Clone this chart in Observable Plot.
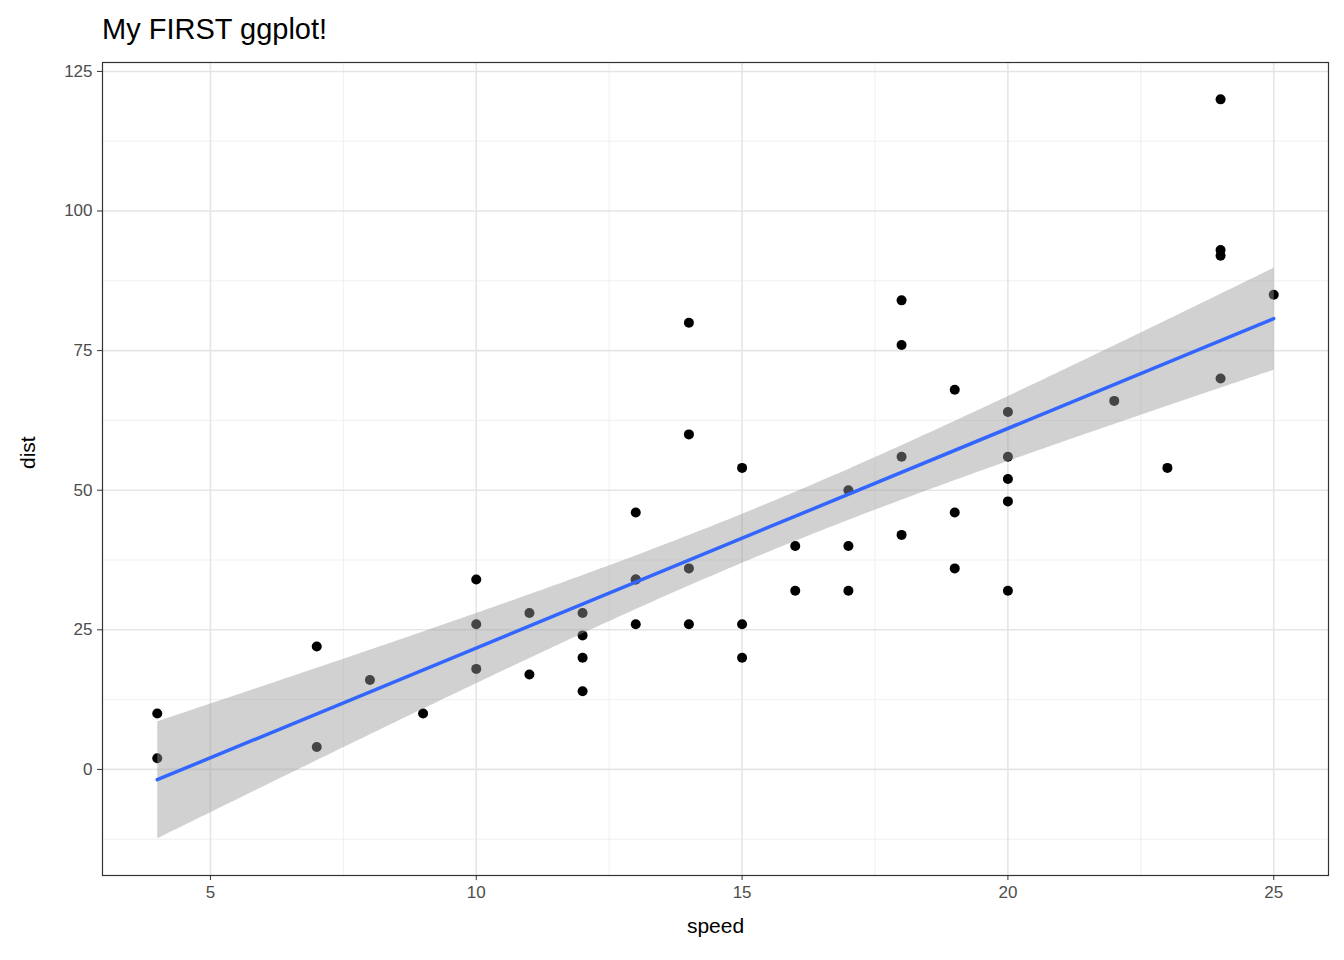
<!DOCTYPE html>
<html>
<head>
<meta charset="utf-8">
<script src="https://cdn.jsdelivr.net/npm/d3@7"></script>
<script src="https://cdn.jsdelivr.net/npm/@observablehq/plot@0.6"></script>
<style>
  body { margin: 0; background: #fff; font-family: "Liberation Sans", Arial, sans-serif; }
  #title { height: 50px; box-sizing: border-box; padding: 13px 0 0 102px; font-size: 29px; color: #000; }
  #chart svg g[aria-label="x-axis tick label"] text, #chart svg g[aria-label="y-axis tick label"] text { font-size: 17px; }
</style>
</head>
<body>
<div id="title">My FIRST ggplot!</div>
<div id="chart"></div>
<script>
const speed = [4,4,7,7,8,9,10,10,10,11,11,12,12,12,12,13,13,13,13,14,14,14,14,15,15,15,16,16,17,17,17,18,18,18,18,19,19,19,20,20,20,20,20,22,23,24,24,24,24,25];
const dist = [2,10,4,22,16,10,18,26,34,17,28,14,20,24,28,26,34,34,46,26,36,60,80,20,26,54,32,40,32,40,50,42,56,76,84,36,46,68,32,48,52,56,64,66,54,70,92,93,120,85];
const xTicks = [5, 10, 15, 20, 25];
const yTicks = [0, 25, 50, 75, 100, 125];
const xMinor = [7.5, 12.5, 17.5, 22.5];
const yMinor = [-12.5, 12.5, 37.5, 62.5, 87.5, 112.5];

const cars = speed.map((s, i) => ({speed: s, dist: dist[i]}));

let chart = Plot.plot({
  width: 1344,
  height: 910,
  marginTop: 12,
  marginBottom: 85,
  marginLeft: 102,
  marginRight: 16,
  style: {fontFamily: "Liberation Sans, Arial, sans-serif", fontSize: "17px", color: "#000"},
  x: {domain: [2.97, 26.03]},
  y: {domain: [-19, 126.6]},
  marks: [
    Plot.ruleX(xMinor, {stroke: "#ebebeb", strokeWidth: 0.8}),
    Plot.ruleY(yMinor, {stroke: "#ebebeb", strokeWidth: 0.8}),
    Plot.ruleX(xTicks, {stroke: "#e5e5e5", strokeWidth: 1.6}),
    Plot.ruleY(yTicks, {stroke: "#e5e5e5", strokeWidth: 1.6}),
    Plot.dot(cars, {x: "speed", y: "dist", r: 5, fill: "#000", stroke: null}),
    Plot.linearRegressionY(cars, {x: "speed", y: "dist", stroke: "#3366FF", strokeWidth: 3.5, fill: "#999", fillOpacity: 0.45}),
    Plot.frame({stroke: "#333", strokeWidth: 1.2}),
    Plot.axisX(xTicks, {tickSize: 5, tickPadding: 5, fill: "#4d4d4d", stroke: "#333", fontSize: 17, label: null}),
    Plot.axisY(yTicks, {tickSize: 5, tickPadding: 5, fill: "#4d4d4d", stroke: "#333", fontSize: 17, label: null}),
    Plot.text(["speed"], {frameAnchor: "bottom", dy: 57, fontSize: 21, fill: "#000"}),
    Plot.text(["dist"], {frameAnchor: "left", dx: -74, rotate: -90, fontSize: 21, fill: "#000"})
  ]
});
d3.select('#chart').append(() => chart);
</script>
</body>
</html>
